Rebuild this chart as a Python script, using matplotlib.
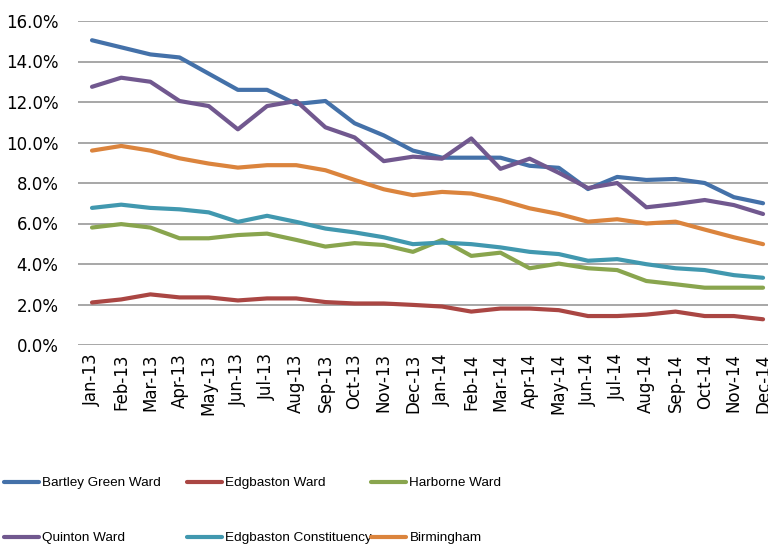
import matplotlib
matplotlib.use("Agg")
import matplotlib.pyplot as plt
from matplotlib.ticker import FuncFormatter, MultipleLocator

months = ["Jan-13", "Feb-13", "Mar-13", "Apr-13", "May-13", "Jun-13",
          "Jul-13", "Aug-13", "Sep-13", "Oct-13", "Nov-13", "Dec-13",
          "Jan-14", "Feb-14", "Mar-14", "Apr-14", "May-14", "Jun-14",
          "Jul-14", "Aug-14", "Sep-14", "Oct-14", "Nov-14", "Dec-14"]

bartley_green = [15.05, 14.7, 14.35, 14.2, 13.4, 12.6, 12.6, 11.9, 12.05, 10.95, 10.35, 9.6,
                 9.25, 9.25, 9.25, 8.85, 8.75, 7.7, 8.3, 8.15, 8.2, 8.0, 7.3, 7.0]
edgbaston_ward = [2.1, 2.25, 2.5, 2.35, 2.35, 2.2, 2.3, 2.3, 2.12, 2.05, 2.05, 1.98,
                  1.9, 1.65, 1.8, 1.8, 1.72, 1.43, 1.43, 1.5, 1.65, 1.43, 1.43, 1.27]
harborne = [5.8, 5.97, 5.8, 5.27, 5.27, 5.43, 5.5, 5.19, 4.86, 5.03, 4.94, 4.6,
            5.19, 4.4, 4.56, 3.79, 4.02, 3.79, 3.7, 3.16, 3.0, 2.83, 2.83, 2.83]
quinton = [12.75, 13.2, 13.0, 12.05, 11.8, 10.65, 11.8, 12.05, 10.75, 10.25, 9.08, 9.3,
           9.2, 10.2, 8.7, 9.2, 8.5, 7.75, 8.0, 6.8, 6.96, 7.16, 6.91, 6.47]
edgbaston_const = [6.77, 6.93, 6.77, 6.7, 6.55, 6.08, 6.38, 6.08, 5.75, 5.56, 5.32, 4.98,
                   5.06, 4.98, 4.82, 4.6, 4.49, 4.16, 4.24, 3.99, 3.79, 3.7, 3.45, 3.32]
birmingham = [9.6, 9.83, 9.6, 9.22, 8.96, 8.76, 8.88, 8.88, 8.63, 8.15, 7.69, 7.4,
              7.56, 7.48, 7.16, 6.75, 6.47, 6.09, 6.21, 6.0, 6.09, 5.7, 5.32, 4.98]

series = [
    ("Bartley Green Ward", bartley_green, "#4471A9"),
    ("Edgbaston Ward", edgbaston_ward, "#AA4643"),
    ("Harborne Ward", harborne, "#89A54E"),
    ("Quinton Ward", quinton, "#71588F"),
    ("Edgbaston Constituency", edgbaston_const, "#4198AF"),
    ("Birmingham", birmingham, "#DB843D"),
]

fig = plt.figure(figsize=(7.68, 5.45), dpi=100)
ax = fig.add_axes([78 / 768, 1 - 345 / 545, 1 - 78 / 768, (345 - 21) / 545])

x = list(range(len(months)))
handles = []
for name, vals, col in series:
    h, = ax.plot(x, vals, color=col, lw=3, label=name, solid_capstyle="round",
                 solid_joinstyle="round", clip_on=False)
    handles.append(h)

ax.set_ylim(0, 16)
ax.set_xlim(-0.48, 23.17)
ax.yaxis.set_major_locator(MultipleLocator(2))
ax.yaxis.set_major_formatter(FuncFormatter(lambda v, p: "%.1f%%" % v))
ax.set_xticks(x)
ax.set_xticklabels(months, rotation=90)
ax.tick_params(axis="both", length=0, labelsize=12, colors="black")
ax.tick_params(axis="y", pad=14)
ax.tick_params(axis="x", pad=6)
ax.grid(axis="y", color="#a0a0a0", lw=1.3)
ax.set_axisbelow(True)
for s in ax.spines.values():
    s.set_visible(False)

# legend: three columns placed like the original, rows filled left to right
legend_font = {"family": ["Liberation Sans", "DejaVu Sans"], "size": 9.7}
col_x = [4, 187, 371]
for c in range(3):
    fig.legend(handles=[handles[c], handles[c + 3]], loc="upper left",
               bbox_to_anchor=(col_x[c] / 768, 1 - 477 / 545), frameon=False,
               prop=legend_font, handlelength=2.6, handletextpad=0.25,
               labelspacing=3.15, borderaxespad=0, borderpad=0)

fig.savefig("out.png", dpi=100)
